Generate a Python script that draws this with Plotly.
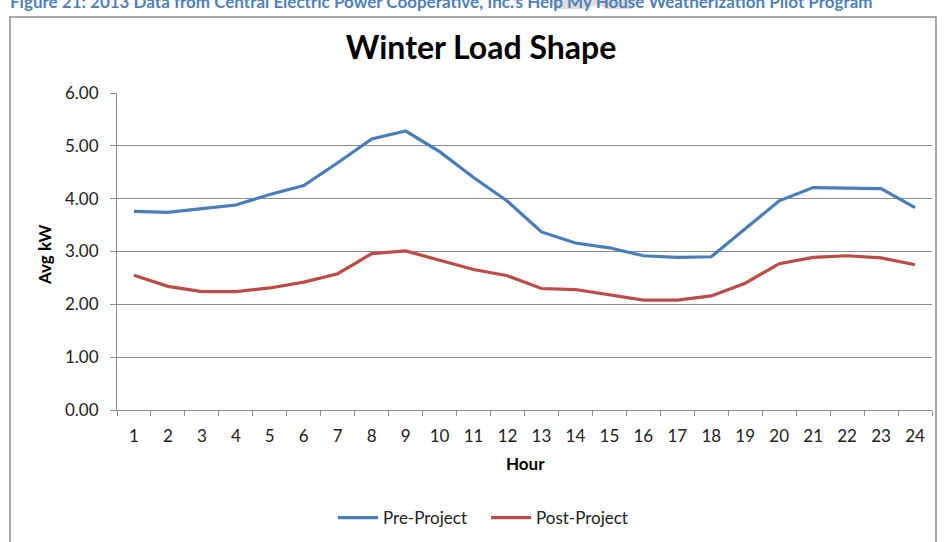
import plotly.graph_objects as go

hours = [str(h) for h in range(1, 25)]
pre_project = [3.76, 3.74, 3.81, 3.88, 4.08, 4.25, 4.68, 5.13, 5.28, 4.89, 4.40, 3.95,
               3.37, 3.16, 3.07, 2.92, 2.89, 2.90, 3.43, 3.96, 4.21, 4.20, 4.19, 3.83]
post_project = [2.55, 2.34, 2.24, 2.24, 2.31, 2.42, 2.58, 2.96, 3.01, 2.83, 2.66, 2.54,
                2.30, 2.28, 2.18, 2.08, 2.08, 2.16, 2.40, 2.77, 2.89, 2.92, 2.88, 2.75]
y_ticks = [0, 1, 2, 3, 4, 5, 6]
y_tick_labels = ["0.00", "1.00", "2.00", "3.00", "4.00", "5.00", "6.00"]

W, H = 946, 542
L, R, T, B = 117, 14, 93, 132
PW, PH = W - L - R, H - T - B

def px(x):
    return (x - L) / PW

def py(y):
    return (H - B - y) / PH

FONT = "Lato"

fig = go.Figure()
fig.add_trace(go.Scatter(x=hours, y=pre_project, mode="lines", name="Pre-Project",
                         line=dict(color="#4A7EBB", width=3.2), legend="legend"))
fig.add_trace(go.Scatter(x=hours, y=post_project, mode="lines", name="Post-Project",
                         line=dict(color="#BE4B48", width=3.2), legend="legend2"))

legend_common = dict(orientation="h", yanchor="middle", xanchor="left",
                     font=dict(family=FONT, size=17, color="#222222"),
                     itemwidth=40, bgcolor="rgba(0,0,0,0)")

fig.update_layout(
    width=W, height=H,
    margin=dict(l=L, r=R, t=T, b=B, autoexpand=False),
    paper_bgcolor="white", plot_bgcolor="white",
    font=dict(family=FONT, color="#222222", size=17),
    title=dict(text="<b>Winter Load Shape</b>", x=481 / W, xanchor="center",
               y=1 - 48 / H, yanchor="middle",
               font=dict(family=FONT, size=32, color="#000000")),
    showlegend=True,
    hovermode=False,
    legend=dict(x=px(333), y=py(518), **legend_common),
    legend2=dict(x=px(486), y=py(518), **legend_common),
    xaxis=dict(type="category", showgrid=False, showline=True, linecolor="#8c8c8c",
               linewidth=1, ticks="outside", tickson="boundaries", ticklen=5,
               tickcolor="#8c8c8c", tickfont=dict(family=FONT, size=17, color="#222222"),
               ticklabelstandoff=11, range=[-0.5, 23.5], zeroline=False),
    yaxis=dict(range=[0, 6], tickvals=y_ticks, ticktext=y_tick_labels,
               showgrid=True, gridcolor="#8c8c8c", gridwidth=1,
               showline=True, linecolor="#8c8c8c", linewidth=1,
               ticks="outside", ticklen=6, tickcolor="#8c8c8c",
               tickfont=dict(family=FONT, size=17, color="#222222"),
               ticklabelstandoff=8, zeroline=False),
)

# Axis titles
fig.add_annotation(text="<b>Hour</b>", xref="paper", yref="paper",
                   x=px(525), y=py(463), xanchor="center", yanchor="middle",
                   showarrow=False, font=dict(family=FONT, size=17, color="#000000"))
fig.add_annotation(text="<b>Avg kW</b>", xref="paper", yref="paper",
                   x=px(45), y=py(255), xanchor="center", yanchor="middle",
                   textangle=-90, showarrow=False,
                   font=dict(family=FONT, size=17, color="#000000"))

# Faint watermark fragment behind the caption
fig.add_shape(type="path", xref="paper", yref="paper", layer="below",
              path=f"M{px(550)},{py(0)} L{px(637)},{py(0)} L{px(632)},{py(9)} L{px(606)},{py(9)} "
                   f"L{px(597)},{py(4)} L{px(588)},{py(9)} L{px(556)},{py(9)} Z",
              fillcolor="#dcdcdc", line=dict(width=0))

# Caption at the top of the image (cut off, as in the source)
fig.add_annotation(text="<b>Figure 21: 2013 Data from Central Electric Power Cooperative, Inc.'s Help My House Weatherization Pilot Program</b>",
                   xref="paper", yref="paper", x=px(8), y=py(1), xanchor="left",
                   yanchor="middle", showarrow=False,
                   font=dict(family=FONT, size=17, color="#4F81BD"))

# Chart border
fig.add_shape(type="rect", xref="paper", yref="paper",
              x0=px(10), x1=px(936), y0=py(600), y1=py(17),
              line=dict(color="#8c8c8c", width=1.5), fillcolor="rgba(0,0,0,0)", layer="below")

fig.write_html("out.html",
               config={"displayModeBar": False, "staticPlot": True},
               post_script="document.body.style.margin='0';document.body.style.overflow='hidden';")
